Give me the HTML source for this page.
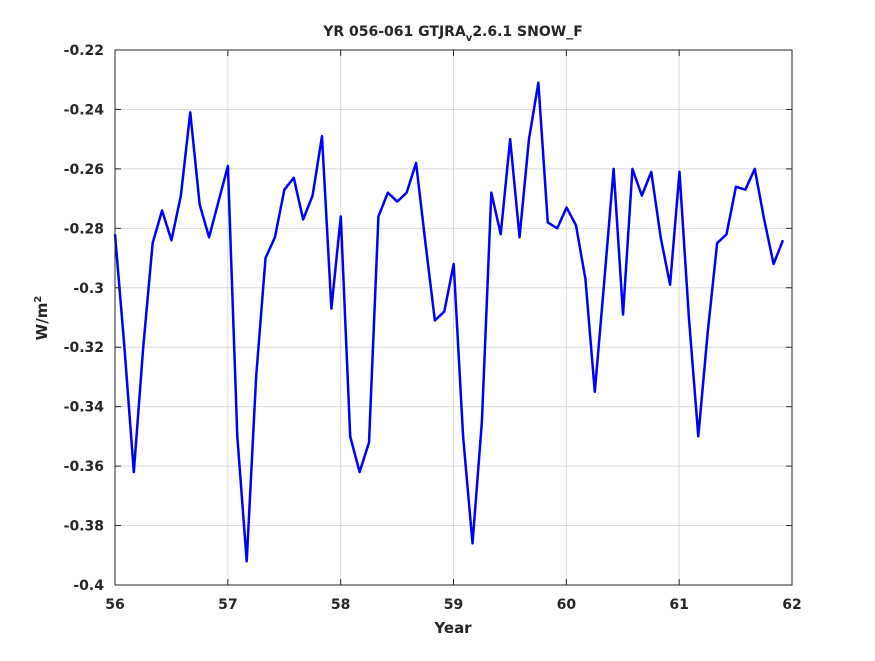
<!DOCTYPE html>
<html><head><meta charset="utf-8"><style>
body{margin:0;background:#fff;}
svg text{font-family:"DejaVu Sans","Liberation Sans",sans-serif;font-weight:bold;fill:#262626;}
</style></head><body>
<svg id="chart" width="875" height="656" xmlns="http://www.w3.org/2000/svg">
<rect x="0" y="0" width="875" height="656" fill="#fff"/>
<g id="grid"></g>
<path id="series" fill="none" stroke="#0000ff" stroke-width="2.5" stroke-linejoin="round"/>
<rect x="115" y="50" width="677" height="535" fill="none" stroke="#262626" stroke-width="1"/>
<g id="ticks"></g>
<text x="453" y="36" text-anchor="middle" font-size="14">YR 056-061 GTJRA<tspan font-size="10" dy="5">v</tspan><tspan dy="-5">2.6.1 SNOW_F</tspan></text>
<text x="453" y="633" text-anchor="middle" font-size="15">Year</text>
<text transform="translate(47,318) rotate(-90)" text-anchor="middle" font-size="15">W/m<tspan font-size="10" dy="-6">2</tspan></text>
</svg>
<script>
const values = [-0.282,-0.32,-0.362,-0.32,-0.285,-0.274,-0.284,-0.269,-0.241,-0.272,-0.283,-0.271,
-0.259,-0.35,-0.392,-0.33,-0.29,-0.283,-0.267,-0.263,-0.277,-0.269,-0.249,-0.307,
-0.276,-0.35,-0.362,-0.352,-0.276,-0.268,-0.271,-0.268,-0.258,-0.285,-0.311,-0.308,
-0.292,-0.35,-0.386,-0.345,-0.268,-0.282,-0.25,-0.283,-0.25,-0.231,-0.278,-0.28,
-0.273,-0.279,-0.297,-0.335,-0.298,-0.26,-0.309,-0.26,-0.269,-0.261,-0.283,-0.299,
-0.261,-0.31,-0.35,-0.315,-0.285,-0.282,-0.266,-0.267,-0.26,-0.277,-0.292,-0.284];
const startYear = 56;
const xTicks = [56,57,58,59,60,61,62];
const yTicks = [-0.22,-0.24,-0.26,-0.28,-0.3,-0.32,-0.34,-0.36,-0.38,-0.4];
const yTickLabels = ["-0.22","-0.24","-0.26","-0.28","-0.3","-0.32","-0.34","-0.36","-0.38","-0.4"];
const L=115,R=792,T=50,B=585;
const xs=v=>L+(v-56)/(62-56)*(R-L);
const ys=v=>T+(-0.22-v)/(0.18)*(B-T);
const NS="http://www.w3.org/2000/svg";
const grid=document.getElementById('grid'), ticks=document.getElementById('ticks'), svg=document.getElementById('chart');
function ln(p,x1,y1,x2,y2,c){const l=document.createElementNS(NS,'line');l.setAttribute('x1',x1);l.setAttribute('y1',y1);l.setAttribute('x2',x2);l.setAttribute('y2',y2);l.setAttribute('stroke',c);l.setAttribute('stroke-width',1);p.appendChild(l);return l;}
xTicks.forEach(t=>{const x=xs(t);
 const g=ln(grid,x,T,x,B,'#dcdcdc');
 
 
 ln(ticks,x,B,x,B-6,'#262626');ln(ticks,x,T,x,T+6,'#262626');
 const tx=document.createElementNS(NS,'text');tx.setAttribute('x',x);tx.setAttribute('y',609);tx.setAttribute('text-anchor','middle');tx.setAttribute('font-size','14');tx.textContent=t;
 
 
 svg.appendChild(tx);});
yTicks.forEach((t,i)=>{const y=ys(t);
 const g=ln(grid,L,y,R,y,'#dcdcdc');
 
 
 ln(ticks,L,y,L+6,y,'#262626');ln(ticks,R,y,R-6,y,'#262626');
 const tx=document.createElementNS(NS,'text');tx.setAttribute('x',104);tx.setAttribute('y',y+5);tx.setAttribute('text-anchor','end');tx.setAttribute('font-size','14');tx.textContent=yTickLabels[i];
 
 
 svg.appendChild(tx);});
const step=(62-56-0.08)/ (values.length-1);
let d='';values.forEach((v,i)=>{d+=(i?'L':'M')+xs(startYear+i*step).toFixed(2)+','+ys(v).toFixed(2);});
document.getElementById('series').setAttribute('d',d);
</script>
</body></html>
